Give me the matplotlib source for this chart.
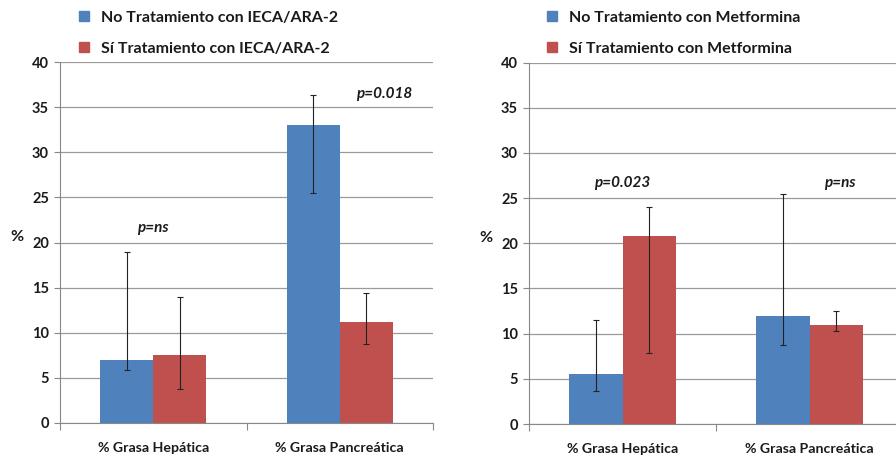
"""
grasa_barras.py
Porcentaje de grasa hepática y pancreática según tratamiento (IECA/ARA-2, Metformina).
"""

import numpy as np
import matplotlib.pyplot as plt
from matplotlib.patches import Patch

categorias = ["% Grasa Hepática", "% Grasa Pancreática"]

# panel izquierdo: IECA/ARA-2
ieca_no = [7.0, 33.0]
ieca_no_err_bajo = [5.9, 25.5]
ieca_no_err_alto = [19.0, 36.3]
ieca_si = [7.5, 11.2]
ieca_si_err_bajo = [3.8, 8.7]
ieca_si_err_alto = [14.0, 14.4]
ieca_p = ["p=ns", "p=0.018"]

# panel derecho: Metformina
met_no = [5.5, 12.0]
met_no_err_bajo = [3.7, 8.7]
met_no_err_alto = [11.5, 25.5]
met_si = [20.8, 11.0]
met_si_err_bajo = [7.9, 10.3]
met_si_err_alto = [24.0, 12.5]
met_p = ["p=0.023", "p=ns"]

AZUL = "#4F81BD"
ROJO = "#C0504D"
W, H = 896, 458

plt.rcParams['font.family'] = ['Lato', 'DejaVu Sans']


def panel(fig, rect, no, no_lo, no_hi, si, si_lo, si_hi, etiquetas_p, pos_p, leyenda, pos_leyenda):
    ax = fig.add_axes(rect)
    x = np.arange(len(categorias))
    ancho = 0.284
    no = np.array(no)
    si = np.array(si)
    err_no = [no - np.array(no_lo), np.array(no_hi) - no]
    err_si = [si - np.array(si_lo), np.array(si_hi) - si]
    kw = dict(ecolor="#222222", elinewidth=0.8, capsize=2.5, capthick=0.8)
    ax.bar(x - ancho / 2, no, ancho, color=AZUL, yerr=err_no, error_kw=kw, zorder=2)
    ax.bar(x + ancho / 2, si, ancho, color=ROJO, yerr=err_si, error_kw=kw, zorder=2)

    ax.set_xlim(-0.5, 1.5)
    ax.set_ylim(0, 40)
    ax.set_yticks(range(0, 41, 5))
    ax.yaxis.grid(True, color="#9a9a9a", linewidth=0.9, zorder=0)
    ax.set_axisbelow(True)
    ax.set_xticks([-0.5, 0.5, 1.5])
    ax.set_xticklabels([])
    ax.set_xticks(x, minor=True)
    ax.set_xticklabels(categorias, minor=True)
    ax.tick_params(axis="x", which="minor", length=0, pad=14, labelsize=10.2)
    ax.tick_params(axis="x", which="major", length=5, color="#888888")
    ax.tick_params(axis="y", length=4, color="#888888", pad=4, labelsize=10.5)
    for lab in ax.get_xticklabels(minor=True) + ax.get_yticklabels():
        lab.set_fontweight("bold")
        lab.set_color("#1a1a1a")
    for s in ["top", "right"]:
        ax.spines[s].set_visible(False)
    for s in ["left", "bottom"]:
        ax.spines[s].set_color("#888888")

    ax.set_ylabel("%", rotation=0, fontsize=11.5, fontweight="bold", color="#1a1a1a",
                  va="center", ha="center")
    ax.yaxis.set_label_coords(-0.115, 0.515)

    for (px, py), txt in zip(pos_p, etiquetas_p):
        ax.text(px, py, txt, ha="center", va="center", fontsize=11,
                style="italic", fontweight="bold", color="#1a1a1a")

    handles = [Patch(color=AZUL, label=leyenda[0]), Patch(color=ROJO, label=leyenda[1])]
    fig.legend(handles=handles, loc="upper left", bbox_to_anchor=pos_leyenda,
               bbox_transform=fig.transFigure, frameon=False, fontsize=11.5,
               handlelength=0.6, handleheight=0.6, handletextpad=0.75,
               labelspacing=1.05, borderaxespad=0, borderpad=0)
    for t in fig.legends[-1].get_texts():
        t.set_fontweight("bold")
        t.set_color("#1a1a1a")
    return ax


fig = plt.figure(figsize=(W / 100, H / 100), dpi=100)

panel(fig, [60 / W, 35 / H, 373 / W, 361 / H],
      ieca_no, ieca_no_err_bajo, ieca_no_err_alto,
      ieca_si, ieca_si_err_bajo, ieca_si_err_alto,
      ieca_p, [(0.0, 21.6), (1.24, 36.5)],
      ["No Tratamiento con IECA/ARA-2", "Sí Tratamiento con IECA/ARA-2"],
      (79 / W, 1 - 11 / H))

panel(fig, [529 / W, 34 / H, 374 / W, 361.5 / H],
      met_no, met_no_err_bajo, met_no_err_alto,
      met_si, met_si_err_bajo, met_si_err_alto,
      met_p, [(0.0, 26.7), (1.16, 26.7)],
      ["No Tratamiento con Metformina", "Sí Tratamiento con Metformina"],
      (547 / W, 1 - 11 / H))

fig.savefig("out.png", dpi=100)
